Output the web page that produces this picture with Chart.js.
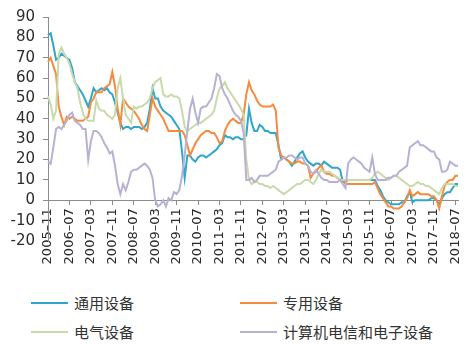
<!DOCTYPE html>
<html>
<head>
<meta charset="utf-8">
<script src="https://cdn.jsdelivr.net/npm/chart.js@4/dist/chart.umd.min.js"></script>
<style>
  html, body { margin: 0; padding: 0; background: #fff; }
  .wrap { position: relative; width: 475px; height: 345px; }
  canvas { position: absolute; left: 0; top: 0; }
  .legend-item {
    position: absolute;
    display: flex;
    align-items: center;
    font-family: "Noto Sans CJK SC", sans-serif;
    font-size: 15px;
    color: #333;
    white-space: nowrap;
  }
  .legend-item .swatch { width: 37px; height: 2px; margin-right: 6px; }
</style>
</head>
<body>
<div class="wrap">
  <canvas id="chart" width="475" height="285"></canvas>
  <div id="legend"></div>
</div>
<script>
// Monthly series, 2005-11 .. 2018-08 (154 months)
const START_YEAR = 2005;
const START_MONTH = 11;
const MONTH_COUNT = 154;

const tickLabels = [
  '2005–11', '2006–07', '2007–03', '2007–11', '2008–07', '2009–03', '2009–11',
  '2010–07', '2011–03', '2011–11', '2012–07', '2013–03', '2013–11', '2014–07',
  '2015–03', '2015–11', '2016–07', '2017–03', '2017–11', '2018–07',
];

const seriesNames = ['通用设备', '专用设备', '电气设备', '计算机电信和电子设备'];
const seriesColors = ['#2ea7ca', '#f68a3d', '#c9daaa', '#b8b1d4'];

const generalEquip = [
  81, 82, 76, 69, 70, 72, 71, 70, 69, 65, 58, 56, 54, 52, 49, 46, 50, 55, 53, 54,
  55, 54, 55, 53, 52, 48, 43, 38, 35, 36, 36, 35, 36, 36, 36, 35, 36, 38, 45, 55,
  50, 50, 46, 44, 43, 42, 41, 39, 37, 35, 24, 11, 22, 22, 20, 19, 21, 22, 22, 21,
  22, 23, 24, 25, 27, 28, 32, 31, 31, 30, 31, 31, 30, 30, 32, 45, 38, 34, 34, 37,
  36, 34, 34, 33, 33, 33, 27, 20, 21, 20, 19, 17, 19, 21, 23, 24, 21, 19, 18, 17,
  18, 18, 17, 19, 18, 17, 16, 16, 16, 15, 9, 9, 10, 10, 10, 10, 10, 10, 10, 10,
  10, 10, 10, 7, 5, 2, 0, -1, -2, -2, -2, -2, -1, -1, 2, 4, -1, 0, 0, 0,
  0, 0, 0, 1, 1, 0, -2, 1, 3, 4, 4, 6, 8, 8,
];

const specialEquip = [
  68, 70, 66, 62, 46, 41, 37, 41, 40, 41, 40, 39, 39, 39, 40, 41, 48, 50, 53, 53,
  53, 55, 56, 57, 63, 56, 45, 37, 50, 48, 46, 45, 44, 42, 40, 37, 35, 34, 42, 50,
  46, 44, 42, 40, 37, 34, 34, 34, 34, 34, 34, 32, 27, 22, 25, 28, 30, 32, 33, 34,
  34, 33, 33, 31, 28, 29, 34, 37, 39, 40, 39, 38, 38, 42, 52, 58, 54, 52, 49, 47,
  46, 46, 46, 46, 47, 44, 26, 22, 21, 20, 19, 18, 18, 19, 19, 18, 18, 17, 11, 13,
  14, 16, 17, 14, 13, 13, 12, 12, 11, 10, 10, 8, 8, 8, 8, 8, 8, 8, 8, 8,
  8, 8, 9, 6, 3, 1, -1, -3, -3, -4, -4, -4, -3, -1, 1, 5, 2, 3, 4, 3,
  3, 3, 3, 2, 2, 0, -4, 2, 7, 9, 10, 10, 12, 12,
];

const electricEquip = [
  51, 47, 40, 44, 72, 75, 72, 70, 67, 62, 58, 55, 48, 43, 40, 39, 39, 39, 49, 45,
  44, 44, 42, 41, 40, 42, 55, 60, 50, 42, 40, 38, 46, 45, 46, 46, 47, 48, 50, 55,
  58, 59, 60, 52, 51, 51, 52, 51, 51, 50, 44, 36, 34, 35, 36, 37, 38, 38, 39, 40,
  41, 42, 44, 50, 55, 56, 58, 55, 53, 51, 49, 47, 45, 42, 20, 10, 8, 9, 9, 8,
  8, 7, 7, 6, 7, 6, 5, 4, 3, 4, 5, 6, 7, 8, 8, 9, 10, 10, 9, 8,
  10, 13, 15, 14, 14, 14, 13, 12, 11, 10, 10, 10, 10, 10, 10, 10, 10, 10, 10, 10,
  10, 11, 13, 14, 13, 12, 11, 10, 11, 12, 12, 11, 10, 9, 8, 7, 7, 8, 9, 8,
  8, 7, 7, 6, 5, 4, 3, 6, 8, 8, 8, 8, 7, 7,
];

const electronicEquip = [
  19, 18, 26, 35, 36, 35, 37, 39, 42, 43, 39, 38, 37, 35, 35, 20, 29, 34, 34, 33,
  31, 28, 26, 23, 24, 17, 8, 3, 8, 5, 9, 14, 15, 15, 16, 17, 18, 17, 15, 11,
  0, -3, -2, 0, -3, 1, 0, 4, 3, 5, 12, 22, 34, 45, 50, 43, 38, 45, 46, 46,
  48, 50, 55, 62, 61, 55, 52, 50, 47, 44, 42, 41, 39, 33, 10, 10, 11, 9, 10, 12,
  12, 12, 12, 13, 14, 15, 19, 20, 21, 21, 22, 22, 21, 20, 21, 21, 18, 17, 14, 13,
  15, 13, 11, 10, 10, 9, 9, 9, 9, 10, 8, 6, 18, 20, 21, 20, 19, 18, 16, 15,
  14, 21, 13, 10, 10, 10, 10, 11, 11, 12, 12, 14, 15, 16, 17, 26, 27, 28, 29, 27,
  27, 26, 25, 24, 24, 21, 20, 14, 14, 15, 19, 18, 17, 17,
];

const seriesValues = [generalEquip, specialEquip, electricEquip, electronicEquip];

// month categories like 2005-11
const months = [];
for (let i = 0; i < MONTH_COUNT; i++) {
  const m = START_MONTH - 1 + i;
  const y = START_YEAR + Math.floor(m / 12);
  months.push(y + '-' + String((m % 12) + 1).padStart(2, '0'));
}

const AXIS_COLOR = '#8c8c8c';
const TEXT_COLOR = '#2b2b2b';

const datasets = seriesValues.map((values, i) => ({
  label: seriesNames[i],
  data: values,
  borderColor: seriesColors[i],
  backgroundColor: seriesColors[i],
  borderWidth: 2,
  pointRadius: 0,
  tension: 0,
  order: seriesValues.length - i, // later series drawn on top
}));

new Chart(document.getElementById('chart'), {
  type: 'line',
  data: {labels: months, datasets},
  options: {
    responsive: false,
    animation: false,
    layout: {padding: {top: 13, right: 10, bottom: 44, left: 0}},
    plugins: {
      legend: {display: false},
      tooltip: {enabled: false},
    },
    scales: {
      x: {
        position: {y: 0},
        grid: {
          display: true,
          drawOnChartArea: false,
          drawTicks: true,
          tickLength: 4,
          color: AXIS_COLOR,
        },
        border: {display: true, color: AXIS_COLOR, width: 1},
        ticks: {
          autoSkip: false,
          minRotation: 90,
          maxRotation: 90,
          padding: 4,
          color: TEXT_COLOR,
          font: {family: 'DejaVu Sans', size: 13},
          callback: (value, index) =>
            index % 8 === 0 ? tickLabels[index / 8] : null,
        },
      },
      y: {
        min: -20,
        max: 90,
        afterFit: (scale) => {
          scale.width = 48;
        },
        grid: {
          display: true,
          drawOnChartArea: false,
          drawTicks: true,
          tickLength: 5,
          color: AXIS_COLOR,
        },
        border: {display: true, color: AXIS_COLOR, width: 1},
        ticks: {
          stepSize: 10,
          autoSkip: false,
          padding: 8,
          color: TEXT_COLOR,
          font: {family: 'DejaVu Sans', size: 15},
        },
      },
    },
  },
});

// legend, 2 x 2 grid
const legendPos = [
  {left: 31, top: 292},
  {left: 240, top: 292},
  {left: 31, top: 321},
  {left: 240, top: 321},
];
const legend = document.getElementById('legend');
seriesNames.forEach((name, i) => {
  const item = document.createElement('div');
  item.className = 'legend-item';
  item.style.left = legendPos[i].left + 'px';
  item.style.top = legendPos[i].top + 'px';
  item.innerHTML =
    '<span class="swatch" style="background:' + seriesColors[i] + '"></span>' +
    '<span>' + name + '</span>';
  legend.appendChild(item);
});
</script>
</body>
</html>
